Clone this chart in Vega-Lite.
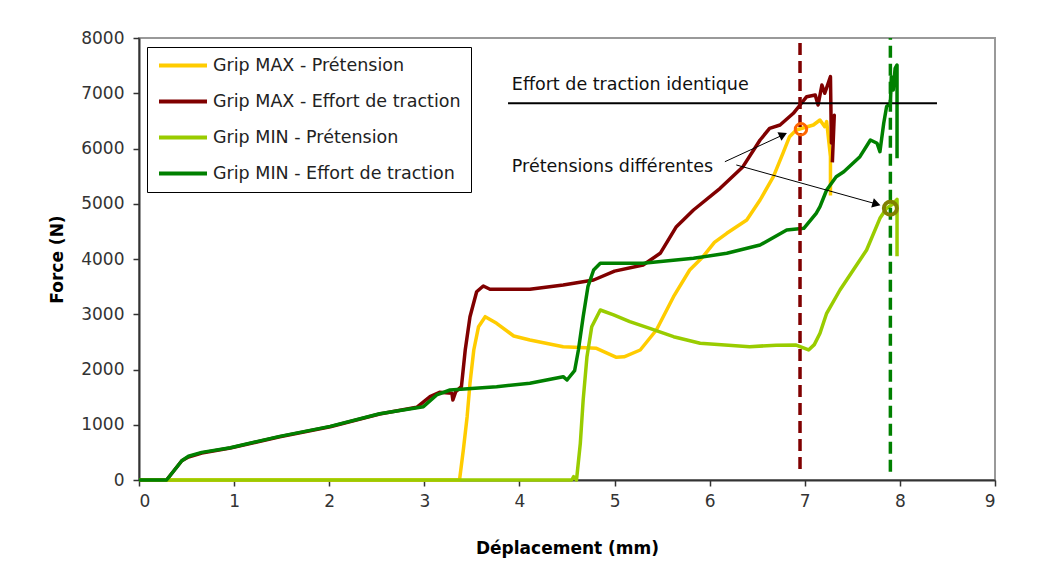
{
  "$schema": "https://vega.github.io/schema/vega-lite/v6.json",
  "width": 856,
  "height": 442,
  "autosize": {"type": "none"},
  "padding": {"left": 139, "top": 38, "right": 51, "bottom": 97},
  "background": "white",
  "config": {
    "view": {"stroke": "#999999", "strokeWidth": 2},
    "font": "DejaVu Sans",
    "axis": {
      "grid": false,
      "domainColor": "#333333",
      "domainWidth": 2,
      "tickColor": "#333333",
      "tickSize": 6,
      "tickWidth": 1.5,
      "labelFont": "DejaVu Sans",
      "labelFontSize": 17,
      "labelColor": "#333333",
      "titleFont": "DejaVu Sans",
      "titleFontSize": 17,
      "titleFontWeight": "bold",
      "titleColor": "#000000"
    }
  },
  "datasets": {
    "curves": [
      {"s": "Grip MAX - Prétension", "d": 0, "f": 0},
      {"s": "Grip MAX - Prétension", "d": 3.37, "f": 0},
      {"s": "Grip MAX - Prétension", "d": 3.41, "f": 543},
      {"s": "Grip MAX - Prétension", "d": 3.45, "f": 1146},
      {"s": "Grip MAX - Prétension", "d": 3.48, "f": 1750},
      {"s": "Grip MAX - Prétension", "d": 3.52, "f": 2353},
      {"s": "Grip MAX - Prétension", "d": 3.57, "f": 2775},
      {"s": "Grip MAX - Prétension", "d": 3.64, "f": 2956},
      {"s": "Grip MAX - Prétension", "d": 3.76, "f": 2836},
      {"s": "Grip MAX - Prétension", "d": 3.94, "f": 2606},
      {"s": "Grip MAX - Prétension", "d": 4.11, "f": 2534},
      {"s": "Grip MAX - Prétension", "d": 4.46, "f": 2413},
      {"s": "Grip MAX - Prétension", "d": 4.81, "f": 2383},
      {"s": "Grip MAX - Prétension", "d": 5.02, "f": 2220},
      {"s": "Grip MAX - Prétension", "d": 5.10, "f": 2230},
      {"s": "Grip MAX - Prétension", "d": 5.27, "f": 2353},
      {"s": "Grip MAX - Prétension", "d": 5.44, "f": 2715},
      {"s": "Grip MAX - Prétension", "d": 5.62, "f": 3318},
      {"s": "Grip MAX - Prétension", "d": 5.79, "f": 3801},
      {"s": "Grip MAX - Prétension", "d": 5.93, "f": 4042},
      {"s": "Grip MAX - Prétension", "d": 6.05, "f": 4300},
      {"s": "Grip MAX - Prétension", "d": 6.18, "f": 4465},
      {"s": "Grip MAX - Prétension", "d": 6.39, "f": 4706},
      {"s": "Grip MAX - Prétension", "d": 6.53, "f": 5068},
      {"s": "Grip MAX - Prétension", "d": 6.67, "f": 5490},
      {"s": "Grip MAX - Prétension", "d": 6.77, "f": 5913},
      {"s": "Grip MAX - Prétension", "d": 6.84, "f": 6214},
      {"s": "Grip MAX - Prétension", "d": 6.91, "f": 6335},
      {"s": "Grip MAX - Prétension", "d": 7.00, "f": 6380},
      {"s": "Grip MAX - Prétension", "d": 7.09, "f": 6425},
      {"s": "Grip MAX - Prétension", "d": 7.16, "f": 6516},
      {"s": "Grip MAX - Prétension", "d": 7.21, "f": 6395},
      {"s": "Grip MAX - Prétension", "d": 7.23, "f": 6486},
      {"s": "Grip MAX - Prétension", "d": 7.27, "f": 5852},
      {"s": "Grip MAX - Prétension", "d": 7.27, "f": 5150},

      {"s": "Grip MAX - Effort de traction", "d": 0, "f": 0},
      {"s": "Grip MAX - Effort de traction", "d": 0.29, "f": 0},
      {"s": "Grip MAX - Effort de traction", "d": 0.45, "f": 349},
      {"s": "Grip MAX - Effort de traction", "d": 0.52, "f": 416},
      {"s": "Grip MAX - Effort de traction", "d": 0.66, "f": 489},
      {"s": "Grip MAX - Effort de traction", "d": 0.96, "f": 579},
      {"s": "Grip MAX - Effort de traction", "d": 1.48, "f": 784},
      {"s": "Grip MAX - Effort de traction", "d": 2.01, "f": 965},
      {"s": "Grip MAX - Effort de traction", "d": 2.53, "f": 1195},
      {"s": "Grip MAX - Effort de traction", "d": 2.92, "f": 1316},
      {"s": "Grip MAX - Effort de traction", "d": 3.06, "f": 1508},
      {"s": "Grip MAX - Effort de traction", "d": 3.16, "f": 1587},
      {"s": "Grip MAX - Effort de traction", "d": 3.29, "f": 1569},
      {"s": "Grip MAX - Effort de traction", "d": 3.30, "f": 1448},
      {"s": "Grip MAX - Effort de traction", "d": 3.33, "f": 1600},
      {"s": "Grip MAX - Effort de traction", "d": 3.39, "f": 1689},
      {"s": "Grip MAX - Effort de traction", "d": 3.43, "f": 2353},
      {"s": "Grip MAX - Effort de traction", "d": 3.48, "f": 2956},
      {"s": "Grip MAX - Effort de traction", "d": 3.55, "f": 3408},
      {"s": "Grip MAX - Effort de traction", "d": 3.62, "f": 3511},
      {"s": "Grip MAX - Effort de traction", "d": 3.69, "f": 3452},
      {"s": "Grip MAX - Effort de traction", "d": 4.11, "f": 3452},
      {"s": "Grip MAX - Effort de traction", "d": 4.46, "f": 3530},
      {"s": "Grip MAX - Effort de traction", "d": 4.78, "f": 3620},
      {"s": "Grip MAX - Effort de traction", "d": 5.00, "f": 3780},
      {"s": "Grip MAX - Effort de traction", "d": 5.30, "f": 3892},
      {"s": "Grip MAX - Effort de traction", "d": 5.48, "f": 4103},
      {"s": "Grip MAX - Effort de traction", "d": 5.65, "f": 4585},
      {"s": "Grip MAX - Effort de traction", "d": 5.83, "f": 4887},
      {"s": "Grip MAX - Effort de traction", "d": 6.11, "f": 5279},
      {"s": "Grip MAX - Effort de traction", "d": 6.35, "f": 5671},
      {"s": "Grip MAX - Effort de traction", "d": 6.53, "f": 6154},
      {"s": "Grip MAX - Effort de traction", "d": 6.63, "f": 6365},
      {"s": "Grip MAX - Effort de traction", "d": 6.74, "f": 6425},
      {"s": "Grip MAX - Effort de traction", "d": 6.88, "f": 6637},
      {"s": "Grip MAX - Effort de traction", "d": 6.95, "f": 6787},
      {"s": "Grip MAX - Effort de traction", "d": 7.02, "f": 6938},
      {"s": "Grip MAX - Effort de traction", "d": 7.11, "f": 6969},
      {"s": "Grip MAX - Effort de traction", "d": 7.14, "f": 6787},
      {"s": "Grip MAX - Effort de traction", "d": 7.18, "f": 7150},
      {"s": "Grip MAX - Effort de traction", "d": 7.21, "f": 6999},
      {"s": "Grip MAX - Effort de traction", "d": 7.27, "f": 7300},
      {"s": "Grip MAX - Effort de traction", "d": 7.28, "f": 6100},
      {"s": "Grip MAX - Effort de traction", "d": 7.31, "f": 6600},
      {"s": "Grip MAX - Effort de traction", "d": 7.29, "f": 5750},

      {"s": "Grip MIN - Prétension", "d": 0, "f": 0},
      {"s": "Grip MIN - Prétension", "d": 4.55, "f": 0},
      {"s": "Grip MIN - Prétension", "d": 4.57, "f": 60},
      {"s": "Grip MIN - Prétension", "d": 4.60, "f": 0},
      {"s": "Grip MIN - Prétension", "d": 4.64, "f": 664},
      {"s": "Grip MIN - Prétension", "d": 4.67, "f": 1448},
      {"s": "Grip MIN - Prétension", "d": 4.71, "f": 2232},
      {"s": "Grip MIN - Prétension", "d": 4.76, "f": 2775},
      {"s": "Grip MIN - Prétension", "d": 4.85, "f": 3077},
      {"s": "Grip MIN - Prétension", "d": 4.99, "f": 2987},
      {"s": "Grip MIN - Prétension", "d": 5.16, "f": 2866},
      {"s": "Grip MIN - Prétension", "d": 5.37, "f": 2745},
      {"s": "Grip MIN - Prétension", "d": 5.62, "f": 2594},
      {"s": "Grip MIN - Prétension", "d": 5.90, "f": 2474},
      {"s": "Grip MIN - Prétension", "d": 6.42, "f": 2413},
      {"s": "Grip MIN - Prétension", "d": 6.70, "f": 2440},
      {"s": "Grip MIN - Prétension", "d": 6.91, "f": 2443},
      {"s": "Grip MIN - Prétension", "d": 7.04, "f": 2353},
      {"s": "Grip MIN - Prétension", "d": 7.10, "f": 2450},
      {"s": "Grip MIN - Prétension", "d": 7.16, "f": 2655},
      {"s": "Grip MIN - Prétension", "d": 7.23, "f": 3017},
      {"s": "Grip MIN - Prétension", "d": 7.37, "f": 3439},
      {"s": "Grip MIN - Prétension", "d": 7.51, "f": 3801},
      {"s": "Grip MIN - Prétension", "d": 7.65, "f": 4163},
      {"s": "Grip MIN - Prétension", "d": 7.79, "f": 4736},
      {"s": "Grip MIN - Prétension", "d": 7.86, "f": 4917},
      {"s": "Grip MIN - Prétension", "d": 7.93, "f": 5000},
      {"s": "Grip MIN - Prétension", "d": 7.97, "f": 5080},
      {"s": "Grip MIN - Prétension", "d": 7.97, "f": 4050},

      {"s": "Grip MIN - Effort de traction", "d": 0, "f": 0},
      {"s": "Grip MIN - Effort de traction", "d": 0.29, "f": 0},
      {"s": "Grip MIN - Effort de traction", "d": 0.45, "f": 349},
      {"s": "Grip MIN - Effort de traction", "d": 0.52, "f": 430},
      {"s": "Grip MIN - Effort de traction", "d": 0.66, "f": 500},
      {"s": "Grip MIN - Effort de traction", "d": 0.96, "f": 585},
      {"s": "Grip MIN - Effort de traction", "d": 1.48, "f": 790},
      {"s": "Grip MIN - Effort de traction", "d": 2.01, "f": 970},
      {"s": "Grip MIN - Effort de traction", "d": 2.53, "f": 1200},
      {"s": "Grip MIN - Effort de traction", "d": 2.99, "f": 1327},
      {"s": "Grip MIN - Effort de traction", "d": 3.13, "f": 1539},
      {"s": "Grip MIN - Effort de traction", "d": 3.27, "f": 1629},
      {"s": "Grip MIN - Effort de traction", "d": 3.76, "f": 1689},
      {"s": "Grip MIN - Effort de traction", "d": 4.11, "f": 1750},
      {"s": "Grip MIN - Effort de traction", "d": 4.46, "f": 1870},
      {"s": "Grip MIN - Effort de traction", "d": 4.50, "f": 1810},
      {"s": "Grip MIN - Effort de traction", "d": 4.58, "f": 1978},
      {"s": "Grip MIN - Effort de traction", "d": 4.62, "f": 2353},
      {"s": "Grip MIN - Effort de traction", "d": 4.67, "f": 2956},
      {"s": "Grip MIN - Effort de traction", "d": 4.72, "f": 3499},
      {"s": "Grip MIN - Effort de traction", "d": 4.78, "f": 3801},
      {"s": "Grip MIN - Effort de traction", "d": 4.85, "f": 3922},
      {"s": "Grip MIN - Effort de traction", "d": 5.30, "f": 3922},
      {"s": "Grip MIN - Effort de traction", "d": 5.83, "f": 4012},
      {"s": "Grip MIN - Effort de traction", "d": 6.18, "f": 4103},
      {"s": "Grip MIN - Effort de traction", "d": 6.53, "f": 4254},
      {"s": "Grip MIN - Effort de traction", "d": 6.81, "f": 4525},
      {"s": "Grip MIN - Effort de traction", "d": 6.99, "f": 4555},
      {"s": "Grip MIN - Effort de traction", "d": 7.12, "f": 4827},
      {"s": "Grip MIN - Effort de traction", "d": 7.16, "f": 4947},
      {"s": "Grip MIN - Effort de traction", "d": 7.23, "f": 5249},
      {"s": "Grip MIN - Effort de traction", "d": 7.33, "f": 5490},
      {"s": "Grip MIN - Effort de traction", "d": 7.41, "f": 5580},
      {"s": "Grip MIN - Effort de traction", "d": 7.58, "f": 5852},
      {"s": "Grip MIN - Effort de traction", "d": 7.69, "f": 6154},
      {"s": "Grip MIN - Effort de traction", "d": 7.76, "f": 6094},
      {"s": "Grip MIN - Effort de traction", "d": 7.79, "f": 5943},
      {"s": "Grip MIN - Effort de traction", "d": 7.83, "f": 6456},
      {"s": "Grip MIN - Effort de traction", "d": 7.86, "f": 6757},
      {"s": "Grip MIN - Effort de traction", "d": 7.90, "f": 6818},
      {"s": "Grip MIN - Effort de traction", "d": 7.91, "f": 7300},
      {"s": "Grip MIN - Effort de traction", "d": 7.93, "f": 7059},
      {"s": "Grip MIN - Effort de traction", "d": 7.95, "f": 7452},
      {"s": "Grip MIN - Effort de traction", "d": 7.97, "f": 7512},
      {"s": "Grip MIN - Effort de traction", "d": 7.97, "f": 5822}
    ],
    "sameForce": [{"d": 3.88, "d2": 8.39, "f": 6818}],
    "limitMax": [{"d": 6.95, "f": 200, "f2": 8000}],
    "limitMin": [{"d": 7.90, "f": 150, "f2": 8000}],
    "labels": [
      {"d": 3.92, "f": 7059, "t": "Effort de traction identique"},
      {"d": 3.92, "f": 5580, "t": "Prétensions différentes"}
    ],
    "arrowMax": [{"d": 6.16, "f": 5761, "d2": 6.76, "f2": 6237}],
    "arrowMin": [{"d": 6.28, "f": 5702, "d2": 7.74, "f2": 5002}],
    "pointMax": [{"d": 6.96, "f": 6348}],
    "pointMin": [{"d": 7.90, "f": 4918}]
  },
  "layer": [
    {
      "data": {"name": "curves"},
      "mark": {"type": "line", "strokeWidth": 3.5, "strokeJoin": "round"},
      "encoding": {
        "x": {
          "field": "d",
          "type": "quantitative",
          "scale": {"domain": [0, 9], "nice": false, "zero": false},
          "axis": {
            "title": "Déplacement (mm)",
            "values": [0, 1, 2, 3, 4, 5, 6, 7, 8, 9],
            "format": "d",
            "labelPadding": 7,
            "titleY": 68,
            "titleBaseline": "middle"
          }
        },
        "y": {
          "field": "f",
          "type": "quantitative",
          "scale": {"domain": [0, 8000], "nice": false},
          "axis": {
            "title": "Force (N)",
            "values": [0, 1000, 2000, 3000, 4000, 5000, 6000, 7000, 8000],
            "format": "d",
            "labelPadding": 9,
            "titleX": -82,
            "titleY": 221,
            "titleAngle": 270,
            "titleBaseline": "middle",
            "titleAlign": "center"
          }
        },
        "color": {
          "field": "s",
          "type": "nominal",
          "scale": {
            "domain": ["Grip MAX - Prétension", "Grip MAX - Effort de traction", "Grip MIN - Prétension", "Grip MIN - Effort de traction"],
            "range": ["#ffcc00", "#800000", "#99cc00", "#008000"]
          },
          "legend": {
            "title": null,
            "orient": "none",
            "legendX": 8,
            "legendY": 9,
            "fillColor": "white",
            "strokeColor": "#000000",
            "padding": 10,
            "symbolType": "stroke",
            "symbolStrokeWidth": 4,
            "symbolSize": 2304,
            "clipHeight": 17,
            "rowPadding": 18,
            "labelFont": "DejaVu Sans",
            "labelFontSize": 17.5,
            "labelColor": "#222222",
            "labelOffset": 4,
            "labelLimit": 400
          }
        },
        "order": {"value": null}
      }
    },
    {
      "data": {"name": "sameForce"},
      "mark": {"type": "rule", "color": "#000000", "strokeWidth": 2},
      "encoding": {
        "x": {"field": "d", "type": "quantitative"},
        "x2": {"field": "d2"},
        "y": {"field": "f", "type": "quantitative"}
      }
    },
    {
      "data": {"name": "limitMax"},
      "mark": {"type": "rule", "color": "#800000", "strokeWidth": 3.5, "strokeDash": [12, 6]},
      "encoding": {
        "x": {"field": "d", "type": "quantitative"},
        "y": {"field": "f", "type": "quantitative"},
        "y2": {"field": "f2"}
      }
    },
    {
      "data": {"name": "limitMin"},
      "mark": {"type": "rule", "color": "#008000", "strokeWidth": 3.5, "strokeDash": [12, 6]},
      "encoding": {
        "x": {"field": "d", "type": "quantitative"},
        "y": {"field": "f", "type": "quantitative"},
        "y2": {"field": "f2"}
      }
    },
    {
      "data": {"name": "labels"},
      "mark": {"type": "text", "align": "left", "baseline": "alphabetic", "font": "DejaVu Sans", "fontSize": 17.5, "color": "#111111"},
      "encoding": {
        "x": {"field": "d", "type": "quantitative"},
        "y": {"field": "f", "type": "quantitative"},
        "text": {"field": "t"}
      }
    },
    {
      "data": {"name": "arrowMax"},
      "mark": {"type": "rule", "color": "#000000", "strokeWidth": 1},
      "encoding": {
        "x": {"field": "d", "type": "quantitative"},
        "y": {"field": "f", "type": "quantitative"},
        "x2": {"field": "d2"},
        "y2": {"field": "f2"}
      }
    },
    {
      "data": {"name": "arrowMax"},
      "mark": {"type": "point", "shape": "triangle", "filled": true, "color": "#000000", "opacity": 1, "size": 90, "angle": 65},
      "encoding": {
        "x": {"field": "d2", "type": "quantitative"},
        "y": {"field": "f2", "type": "quantitative"}
      }
    },
    {
      "data": {"name": "arrowMin"},
      "mark": {"type": "rule", "color": "#000000", "strokeWidth": 1},
      "encoding": {
        "x": {"field": "d", "type": "quantitative"},
        "y": {"field": "f", "type": "quantitative"},
        "x2": {"field": "d2"},
        "y2": {"field": "f2"}
      }
    },
    {
      "data": {"name": "arrowMin"},
      "mark": {"type": "point", "shape": "triangle", "filled": true, "color": "#000000", "opacity": 1, "size": 90, "angle": 106},
      "encoding": {
        "x": {"field": "d2", "type": "quantitative"},
        "y": {"field": "f2", "type": "quantitative"}
      }
    },
    {
      "data": {"name": "pointMax"},
      "mark": {"type": "point", "shape": "circle", "filled": false, "color": "#ff6600", "opacity": 1, "strokeWidth": 3, "size": 130},
      "encoding": {
        "x": {"field": "d", "type": "quantitative"},
        "y": {"field": "f", "type": "quantitative"}
      }
    },
    {
      "data": {"name": "pointMin"},
      "mark": {"type": "point", "shape": "circle", "filled": false, "color": "#808000", "opacity": 1, "strokeWidth": 4, "size": 170},
      "encoding": {
        "x": {"field": "d", "type": "quantitative"},
        "y": {"field": "f", "type": "quantitative"}
      }
    }
  ]
}
